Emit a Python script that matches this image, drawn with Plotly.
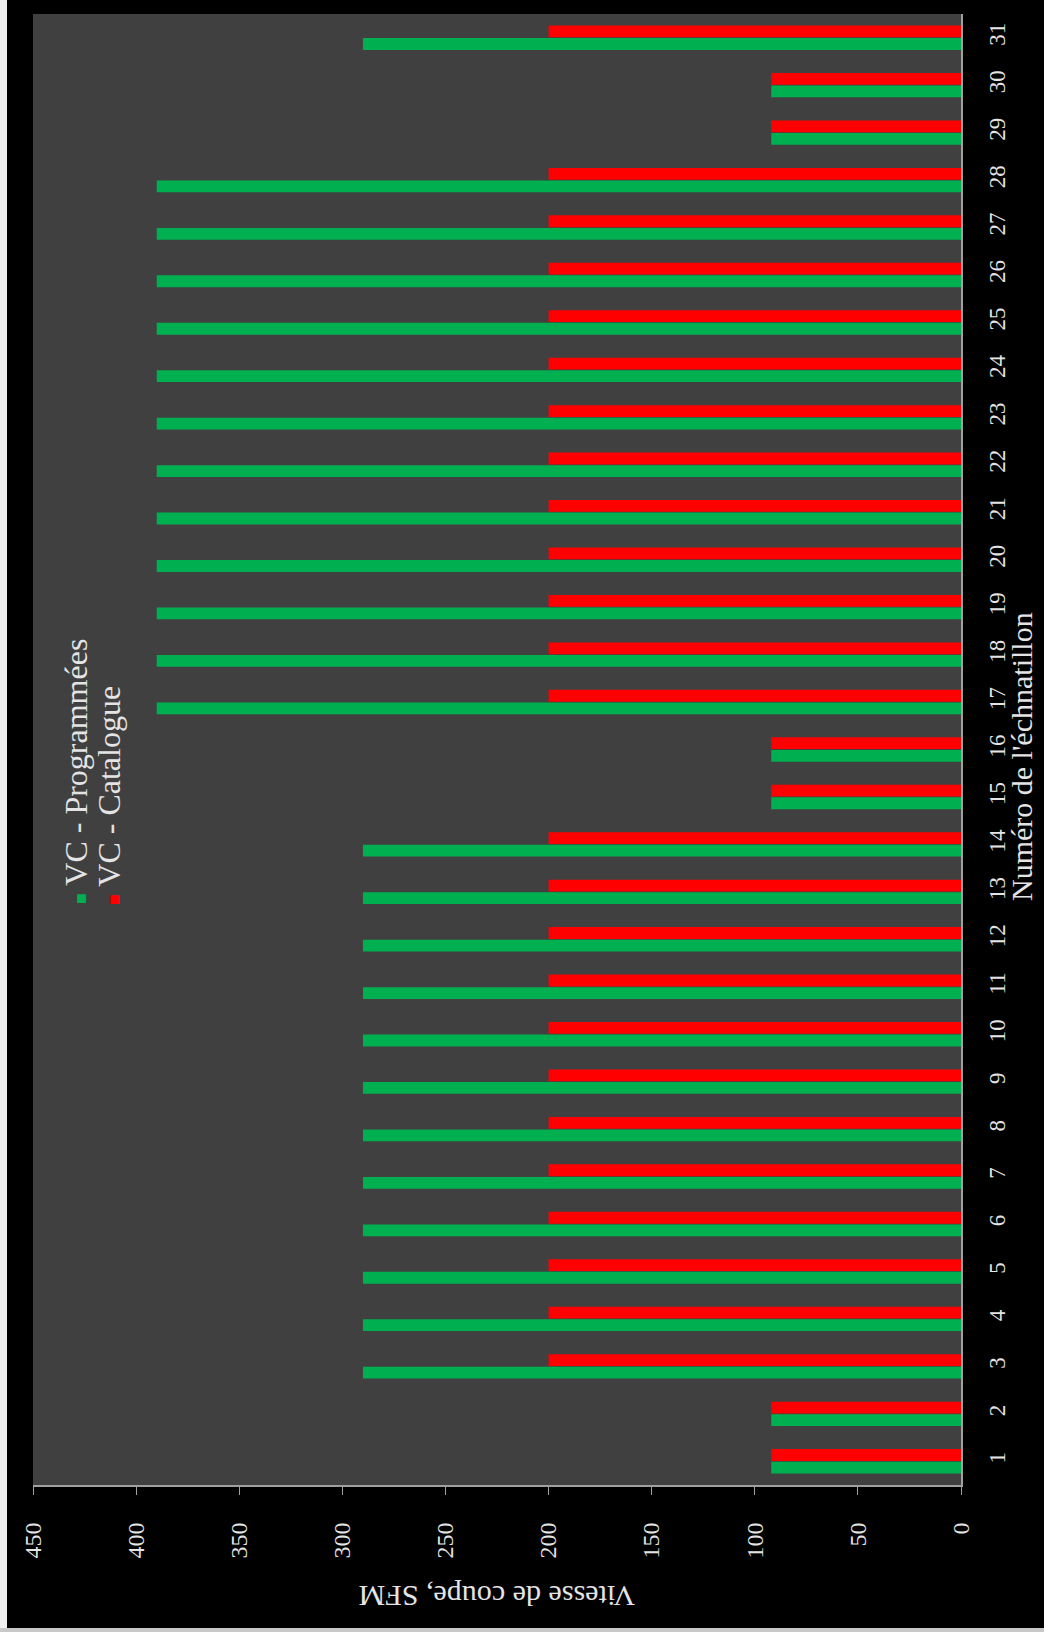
import plotly.graph_objects as go

# sample numbers (category axis) and cutting speeds, SFM
samples = list(range(1, 32))
sample_labels = [str(s) for s in samples]

vc_programmees = [92, 92, 290, 290, 290, 290, 290, 290, 290, 290, 290, 290, 290, 290,
                  92, 92, 390, 390, 390, 390, 390, 390, 390, 390, 390, 390, 390, 390,
                  92, 92, 290]
vc_catalogue = [92, 92, 200, 200, 200, 200, 200, 200, 200, 200, 200, 200, 200, 200,
                92, 92, 200, 200, 200, 200, 200, 200, 200, 200, 200, 200, 200, 200,
                92, 92, 200]

value_ticks = [0, 50, 100, 150, 200, 250, 300, 350, 400, 450]

GREEN = "#00b050"
RED = "#ff0000"
TXT = "#e4e4e4"
AXIS = "#a0a0a0"
FONT = "Liberation Serif"

W, H = 1044, 1632
L, R, T, B = 33, 83, 14, 147


def px_x(x):
    return (x - L) / (W - L - R)


def px_y(y):
    return (H - B - y) / (H - T - B)


fig = go.Figure()
fig.add_trace(go.Bar(y=samples, x=vc_programmees, orientation="h",
                     name="VC - Programmées", marker_color=GREEN, marker_line_width=0))
fig.add_trace(go.Bar(y=samples, x=vc_catalogue, orientation="h",
                     name="VC - Catalogue", marker_color=RED, marker_line_width=0))

fig.update_layout(
    width=W, height=H,
    margin=dict(l=L, r=R, t=T, b=B),
    barmode="group", bargap=0.47, bargroupgap=0.06,
    showlegend=False,
    paper_bgcolor="#000000",
    plot_bgcolor="#404040",
    font=dict(family=FONT, color=TXT),
)

fig.update_xaxes(
    range=[450, 0], tickmode="array", tickvals=value_ticks,
    showgrid=False, zeroline=False,
    showline=True, linecolor=AXIS, linewidth=2,
    ticks="outside", ticklen=8, tickcolor=AXIS, tickwidth=1,
    tickangle=-90, tickfont=dict(size=24, color=TXT, family=FONT), ticklabelstandoff=18,
)
fig.update_yaxes(
    range=[0.5, 31.5], side="right", tickmode="array",
    tickvals=samples, ticktext=sample_labels,
    showgrid=False, zeroline=False,
    showline=True, linecolor=AXIS, linewidth=2, ticks="",
    tickangle=-90, tickfont=dict(size=23, color=TXT, family=FONT), ticklabelstandoff=14,
)

# axis titles (chart is turned on its side)
fig.add_annotation(text="Vitesse de coupe, SFM", xref="paper", yref="paper",
                   x=0.5, y=px_y(1597), xanchor="center", yanchor="middle",
                   textangle=180, showarrow=False,
                   font=dict(size=30, color=TXT, family=FONT))
fig.add_annotation(text="Numéro de l'échnatillon", xref="paper", yref="paper",
                   x=px_x(1021), y=px_y(757), xanchor="center", yanchor="middle",
                   textangle=-90, showarrow=False,
                   font=dict(size=30, color=TXT, family=FONT))

# legend drawn as rotated text
fig.add_annotation(text=f"<span style='color:{GREEN};font-size:18px'>■</span> VC - Programmées",
                   xref="paper", yref="paper", x=px_x(76), y=px_y(772),
                   xanchor="center", yanchor="middle",
                   textangle=-90, showarrow=False,
                   font=dict(size=32, color=TXT, family=FONT))
fig.add_annotation(text=f"<span style='color:{RED};font-size:18px'>■</span> VC - Catalogue",
                   xref="paper", yref="paper", x=px_x(109), y=px_y(796),
                   xanchor="center", yanchor="middle",
                   textangle=-90, showarrow=False,
                   font=dict(size=32, color=TXT, family=FONT))

# light frame edges of the scanned picture
fig.add_shape(type="rect", xref="paper", yref="paper",
              x0=px_x(0), x1=px_x(7), y0=px_y(H), y1=px_y(0),
              fillcolor="#f0f0f0", line_width=0, layer="above")
fig.add_shape(type="rect", xref="paper", yref="paper",
              x0=px_x(0), x1=px_x(W), y0=px_y(H), y1=px_y(H - 4),
              fillcolor="#c8c8c8", line_width=0, layer="above")

fig.write_html("out.html", config={"displayModeBar": False},
               post_script="document.body.style.margin='0px';")
